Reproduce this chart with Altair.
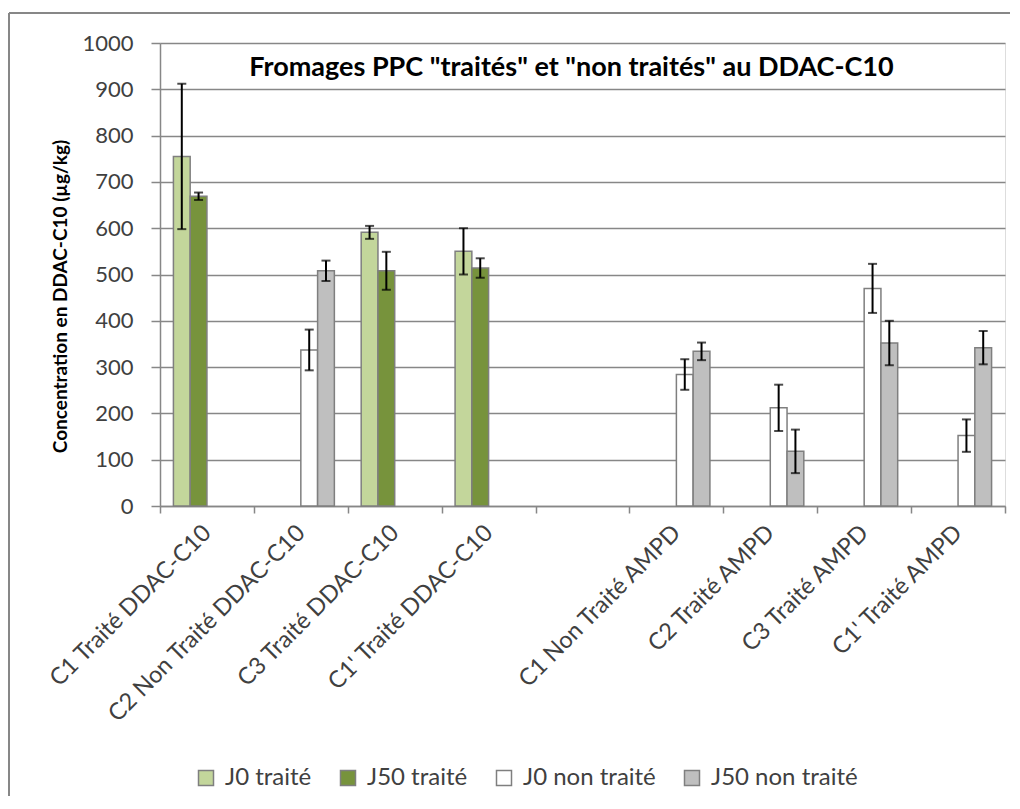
import altair as alt
import pandas as pd

categories = ["C1 Traité DDAC-C10", "C2 Non Traité DDAC-C10", "C3 Traité DDAC-C10",
              "C1' Traité DDAC-C10", " ", "C1 Non Traité AMPD", "C2 Traité AMPD",
              "C3 Traité AMPD", "C1' Traité AMPD"]
series = ["J0 traité", "J50 traité", "J0 non traité", "J50 non traité"]
colors = ["#C3D69B", "#77933C", "#FFFFFF", "#BFBFBF"]

j0_traite = [755, None, 591, 550, None, None, None, None, None]
j0_traite_err = [157, None, 14, 50, None, None, None, None, None]
j50_traite = [669, None, 508, 514, None, None, None, None, None]
j50_traite_err = [8, None, 41, 21, None, None, None, None, None]
j0_non_traite = [None, 337, None, None, None, 284, 212, 470, 152]
j0_non_traite_err = [None, 44, None, None, None, 33, 50, 53, 35]
j50_non_traite = [None, 508, None, None, None, 334, 118, 352, 342]
j50_non_traite_err = [None, 22, None, None, None, 19, 47, 48, 36]

y_ticks = list(range(0, 1001, 100))

rows = []
for name, vals, errs in zip(series,
                            [j0_traite, j50_traite, j0_non_traite, j50_non_traite],
                            [j0_traite_err, j50_traite_err, j0_non_traite_err, j50_non_traite_err]):
    for c, v, e in zip(categories, vals, errs):
        if v is not None:
            rows.append({"cat": c, "series": name, "value": v, "lo": v - e, "hi": v + e})
df = pd.DataFrame(rows)

FONT = "Lato"
GRAY = "#878787"
TXT = "#404040"

x_enc = alt.X("cat:N", sort=categories,
              scale=alt.Scale(domain=categories, paddingInner=0, paddingOuter=0),
              axis=alt.Axis(title=None, labelAngle=-45, labelAlign="right", labelBaseline="middle",
                            labelFontSize=23.5, labelFont=FONT, labelColor=TXT, labelPadding=16,
                            domainColor=GRAY, domainWidth=1.5, tickColor=GRAY, tickWidth=1.5,
                            tickSize=7, tickBand="extent", grid=False, labelLimit=400))
xo_enc = alt.XOffset("series:N", sort=series,
                     scale=alt.Scale(domain=series, paddingInner=0, paddingOuter=0.8))
y_scale = alt.Scale(domain=[0, 1000], nice=False)

bars = alt.Chart(df).mark_bar(stroke="#7F7F7F", strokeWidth=1.5).encode(
    x=x_enc,
    xOffset=xo_enc,
    y=alt.Y("value:Q", scale=y_scale,
            axis=alt.Axis(values=y_ticks, format="d", title="Concentration en DDAC-C10 (µg/kg)",
                          titleFont=FONT, titleFontSize=19, titleFontWeight="bold", titleColor="black",
                          titleX=-100, titleY=253, titleAlign="center", titleBaseline="middle",
                          labelFont=FONT, labelFontSize=22, labelColor=TXT, labelPadding=18,
                          domainColor=GRAY, domainWidth=1.5, tickColor=GRAY, tickWidth=1.5, tickSize=9,
                          grid=True, gridColor=GRAY, gridWidth=1.5)),
    color=alt.Color("series:N", sort=series, scale=alt.Scale(domain=series, range=colors),
                    legend=alt.Legend(title=None, orient="none", legendX=34, legendY=723,
                                      direction="horizontal", columns=4, columnPadding=24,
                                      labelFont=FONT, labelFontSize=24, labelColor=TXT, labelOffset=7,
                                      symbolType="square", symbolSize=225,
                                      symbolStrokeColor="#7F7F7F", symbolStrokeWidth=1.5)),
)

err_line = alt.Chart(df).mark_rule(color="black", strokeWidth=2).encode(
    x="cat:N", xOffset="series:N", y=alt.Y("lo:Q", scale=y_scale), y2="hi:Q")
cap_lo = alt.Chart(df).mark_tick(color="black", thickness=2, size=9).encode(
    x="cat:N", xOffset="series:N", y=alt.Y("lo:Q", scale=y_scale))
cap_hi = alt.Chart(df).mark_tick(color="black", thickness=2, size=9).encode(
    x="cat:N", xOffset="series:N", y=alt.Y("hi:Q", scale=y_scale))

frame_df = pd.DataFrame({"k": [0]})
frame_left = alt.Chart(frame_df).mark_rule(color=GRAY, strokeWidth=2).encode(
    x=alt.value(-151), y=alt.value(-30), y2=alt.value(780))
frame_top = alt.Chart(frame_df).mark_rule(color=GRAY, strokeWidth=2).encode(
    x=alt.value(-151), x2=alt.value(860), y=alt.value(-30))

chart = alt.layer(bars, err_line, cap_lo, cap_hi, frame_left, frame_top).properties(
    width=845, height=463,
    title=alt.TitleParams(text='Fromages PPC "traités" et "non traités" au DDAC-C10',
                          font=FONT, fontSize=27, fontWeight="bold", color="black",
                          anchor="middle", frame="group", baseline="alphabetic",
                          offset=-34, dx=-11, dy=57),
    autosize=alt.AutoSizeParams(type="none"),
    padding={"left": 152, "top": 35, "right": 5, "bottom": 290},
).configure_view(stroke=None).configure(background="white")

chart.save("out.html", embed_options={"renderer": "svg", "actions": False})
